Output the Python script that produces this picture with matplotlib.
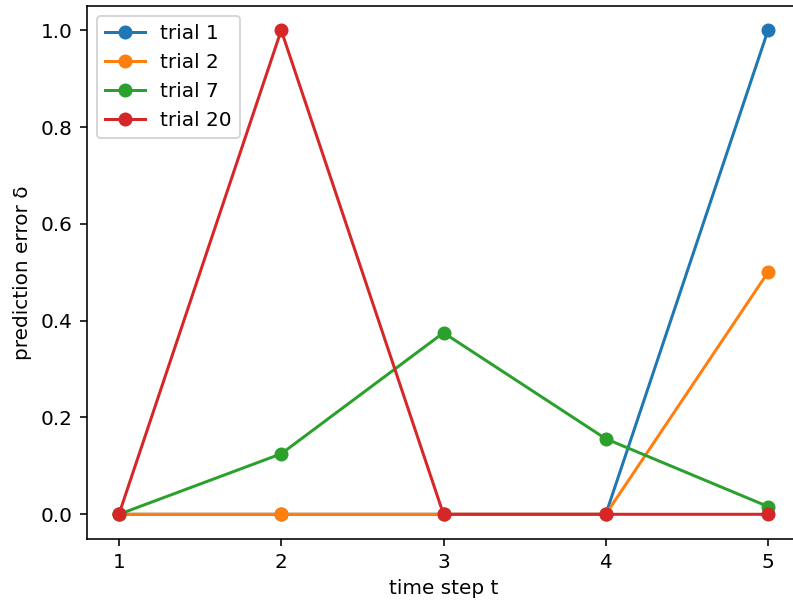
import matplotlib
matplotlib.use("Agg")
import matplotlib.pyplot as plt

# time steps and prediction errors per trial
t = [1, 2, 3, 4, 5]
trial_1 = [0, 0, 0, 0, 1.0]
trial_2 = [0, 0, 0, 0, 0.5]
trial_7 = [0, 0.125, 0.375, 0.156, 0.016]
trial_20 = [0, 1.0, 0, 0, 0]

fig = plt.figure(figsize=(793 / 144, 603 / 144), dpi=144)
ax = fig.add_axes([86.5 / 793, 1 - 538.5 / 603, 714 / 793, 532.5 / 603])

ax.plot(t, trial_1, marker='o', label='trial 1')
ax.plot(t, trial_2, marker='o', label='trial 2')
ax.plot(t, trial_7, marker='o', label='trial 7')
ax.plot(t, trial_20, marker='o', label='trial 20')

# the right edge of the axes is cut off in the original
ax.spines['right'].set_visible(False)

ax.set_xticks(t)
ax.set_xlabel('time step t')
ax.set_ylabel('prediction error δ')
ax.legend(loc='upper left')

fig.savefig('out.png', dpi=144)
